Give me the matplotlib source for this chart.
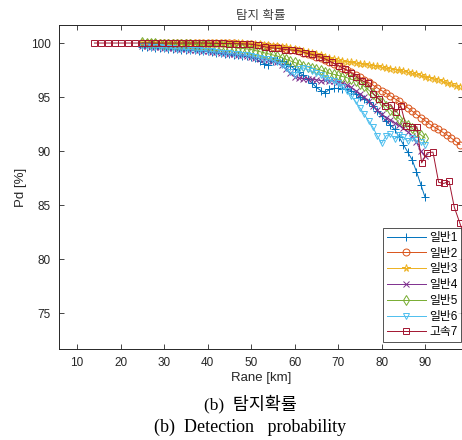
import numpy as np
import matplotlib.pyplot as plt

plt.rcParams['font.family'] = ['Liberation Sans', 'Noto Sans CJK KR', 'DejaVu Sans']

# ── Data ─────────────────────────────────────────────────────────
range_short = list(range(25, 91))   # 일반1, 일반4, 일반5, 일반6
range_long = list(range(25, 99))    # 일반2, 일반3

pd_normal1 = [99.65, 99.63, 99.6, 99.57, 99.55, 99.52, 99.49, 99.46, 99.43, 99.4,
              99.37, 99.34, 99.31, 99.28, 99.25, 99.22, 99.17, 99.12, 99.07, 99.02,
              98.97, 98.92, 98.87, 98.82, 98.77, 98.72, 98.6, 98.3, 98.1, 98.0,
              98.3, 98.4, 98.3, 98.1, 97.9, 97.6, 97.3, 97.0, 96.7, 96.3,
              95.9, 95.6, 95.4, 95.7, 95.8, 95.8, 95.75, 95.7, 95.6, 95.3,
              95.0, 94.8, 94.5, 94.2, 93.7, 93.2, 92.8, 92.4, 92.0, 91.3,
              90.6, 89.9, 89.2, 88.1, 86.9, 85.7]

pd_normal2 = [100.0] * 20 + [
              99.97, 99.96, 99.95, 99.93, 99.9, 99.87, 99.84, 99.8, 99.76, 99.72,
              99.67, 99.62, 99.55, 99.48, 99.4, 99.32, 99.22, 99.12, 99.0, 98.88,
              98.75, 98.6, 98.45, 98.28, 98.1, 97.92, 97.72, 97.52, 97.3, 97.08,
              96.85, 96.6, 96.35, 96.1, 95.85, 95.6, 95.35, 95.1, 94.85, 94.6,
              94.3, 94.0, 93.7, 93.4, 93.1, 92.8, 92.5, 92.25, 92.0, 91.75,
              91.5, 91.2, 90.9, 90.6]

pd_normal3 = [100.0] * 21 + [
              99.98, 99.97, 99.96, 99.94, 99.92, 99.9, 99.87, 99.84, 99.8, 99.76,
              99.71, 99.65, 99.59, 99.52, 99.45, 99.37, 99.28, 99.18, 99.08, 98.97,
              98.86, 98.74, 98.62, 98.5, 98.4, 98.32, 98.26, 98.2, 98.14, 98.08,
              98.02, 97.96, 97.9, 97.83, 97.76, 97.69, 97.62, 97.54, 97.46, 97.38,
              97.3, 97.2, 97.1, 97.0, 96.9, 96.8, 96.7, 96.58, 96.46, 96.33,
              96.2, 96.05, 95.9]

pd_normal4 = [99.7, 99.68, 99.65, 99.62, 99.6, 99.57, 99.54, 99.51, 99.48, 99.45,
              99.42, 99.39, 99.36, 99.33, 99.3, 99.27, 99.2, 99.15, 99.1, 99.05,
              99.0, 98.95, 98.9, 98.85, 98.8, 98.75, 98.65, 98.55, 98.5, 98.45,
              98.35, 98.2, 97.95, 97.6, 97.2, 96.9, 96.75, 96.7, 96.7, 96.65,
              96.6, 96.5, 96.55, 96.5, 96.45, 96.4, 96.3, 96.1, 95.9, 95.6,
              95.3, 95.0, 94.6, 94.2, 93.8, 93.4, 93.1, 92.9, 92.6, 92.4,
              92.1, 91.8, 91.4, 90.8, 90.0, 89.5]

pd_normal5 = [100.05, 100.0, 99.98, 99.96, 99.95, 99.94, 99.93, 99.92, 99.91, 99.9,
              99.89, 99.88, 99.86, 99.84, 99.82, 99.8, 99.77, 99.74, 99.71, 99.68,
              99.65, 99.6, 99.55, 99.5, 99.45, 99.4, 99.3, 99.2, 99.1, 99.0,
              98.9, 98.8, 98.65, 98.5, 98.35, 98.2, 98.05, 97.9, 97.8, 97.7,
              97.6, 97.5, 97.35, 97.2, 97.1, 97.0, 96.9, 96.8, 96.65, 96.5,
              96.25, 96.0, 95.65, 95.3, 94.9, 94.5, 94.15, 93.8, 93.4, 93.0,
              92.7, 92.4, 92.1, 91.8, 91.5, 91.2]

pd_normal6 = [99.7, 99.68, 99.65, 99.62, 99.6, 99.57, 99.54, 99.51, 99.48, 99.45,
              99.42, 99.39, 99.36, 99.33, 99.3, 99.27, 99.22, 99.17, 99.12, 99.08,
              99.05, 99.0, 98.95, 98.9, 98.85, 98.8, 98.7, 98.6, 98.55, 98.5,
              98.4, 98.25, 98.0, 97.7, 97.3, 97.0, 97.6, 97.7, 97.55, 97.4,
              97.2, 97.0, 96.8, 96.6, 96.45, 96.3, 95.95, 95.6, 95.1, 94.6,
              94.0, 93.4, 92.8, 92.2, 91.4, 90.7, 91.4, 91.6, 91.1, 91.5,
              91.3, 90.9, 91.2, 91.0, 90.8, 90.6]

range_fast = [14.0, 15.6, 17.1, 18.7, 20.2, 21.8, 23.3, 24.9, 26.4, 28.0,
              29.5, 31.1, 32.6, 34.2, 35.7, 37.3, 38.8, 40.4, 41.9, 43.5,
              45.0, 46.6, 48.2, 49.8, 51.5, 53.1, 54.7, 56.3, 57.8, 59.3,
              60.9, 62.4, 64.0, 65.6, 67.2, 68.7, 70.1, 71.5, 72.9, 74.2,
              75.5, 76.8, 78.1, 79.5, 80.8, 82.1, 83.3, 84.4, 85.6, 86.9,
              88.1, 89.2, 90.5, 91.8, 93.1, 94.3, 95.5, 96.7, 98.0, 99.2]
pd_fast7 = [100.0, 100.0, 100.0, 100.0, 100.0, 100.0, 100.0, 100.0, 100.0, 100.0,
            100.0, 100.0, 100.0, 100.0, 100.0, 100.0, 100.0, 99.98, 99.97, 99.96,
            99.95, 99.94, 99.92, 99.9, 99.8, 99.65, 99.55, 99.5, 99.4, 99.35,
            99.3, 99.1, 98.95, 98.75, 98.5, 98.2, 97.9, 97.6, 97.25, 96.9,
            96.5, 96.3, 95.3, 94.8, 94.2, 94.3, 93.6, 94.2, 92.3, 92.25,
            92.25, 88.9, 89.85, 89.9, 87.1, 87.0, 87.2, 84.8, 83.3, 81.9]

labels = ['일반1', '일반2', '일반3', '일반4', '일반5', '일반6', '고속7']
colors = ['#0072BD', '#D95319', '#EDB120', '#7E2F8E', '#77AC30', '#4DBEEE', '#A2142F']
markers = ['+', 'o', '*', 'x', 'd', 'v', 's']
marker_sizes = [5.5, 5, 5.5, 4.5, 5, 5, 5]

series = [
    (range_short, pd_normal1),
    (range_long, pd_normal2),
    (range_long, pd_normal3),
    (range_short, pd_normal4),
    (range_short, pd_normal5),
    (range_short, pd_normal6),
    (range_fast, pd_fast7),
]

fig = plt.figure(figsize=(4.62, 4.4), dpi=100)
ax = fig.add_axes([59 / 462, 1 - 349 / 440, 404 / 462, 324 / 440])

for (x, y), lbl, c, m, ms in zip(series, labels, colors, markers, marker_sizes):
    ax.plot(x, y, color=c, marker=m, markersize=ms, markerfacecolor='none',
            markeredgewidth=0.7, linewidth=0.7, label=lbl)

ax.set_xlim(5.86, 98.7)
ax.set_ylim(71.67, 101.67)
ax.set_xticks(range(10, 100, 10))
ax.set_yticks([75, 80, 85, 90, 95, 100])
ax.tick_params(direction='in', length=3.5, width=0.6, top=True, right=True,
               labelsize=8.5, colors='#262626', pad=6)
for sp in ax.spines.values():
    sp.set_linewidth(0.7)
    sp.set_color('#262626')

ax.set_title('탐지 확률', fontsize=9, color='#404040', pad=4)
ax.set_xlabel('Rane [km]', fontsize=9.5, color='#262626', labelpad=2)
ax.set_ylabel('Pd [%]', fontsize=9.5, color='#262626', labelpad=3)

leg = ax.legend(loc='lower right', bbox_to_anchor=(461 / 462, 1 - 342 / 440),
                bbox_transform=fig.transFigure, fontsize=8.5, frameon=True,
                fancybox=False, edgecolor='#262626', handlelength=3.3,
                borderpad=0.3, labelspacing=0.32, handletextpad=0.3,
                borderaxespad=0)
leg.get_frame().set_linewidth(0.7)

fig.text(250 / 462, 1 - 404 / 440, '(b)  탐지확률', ha='center', va='center',
         fontsize=12.5, family=['Liberation Serif', 'Noto Sans CJK KR'])
fig.text(250 / 462, 1 - 427 / 440, '(b)  Detection   probability', ha='center',
         va='center', fontsize=13, family=['Liberation Serif', 'DejaVu Serif'])

fig.savefig('out.png', dpi=100)
